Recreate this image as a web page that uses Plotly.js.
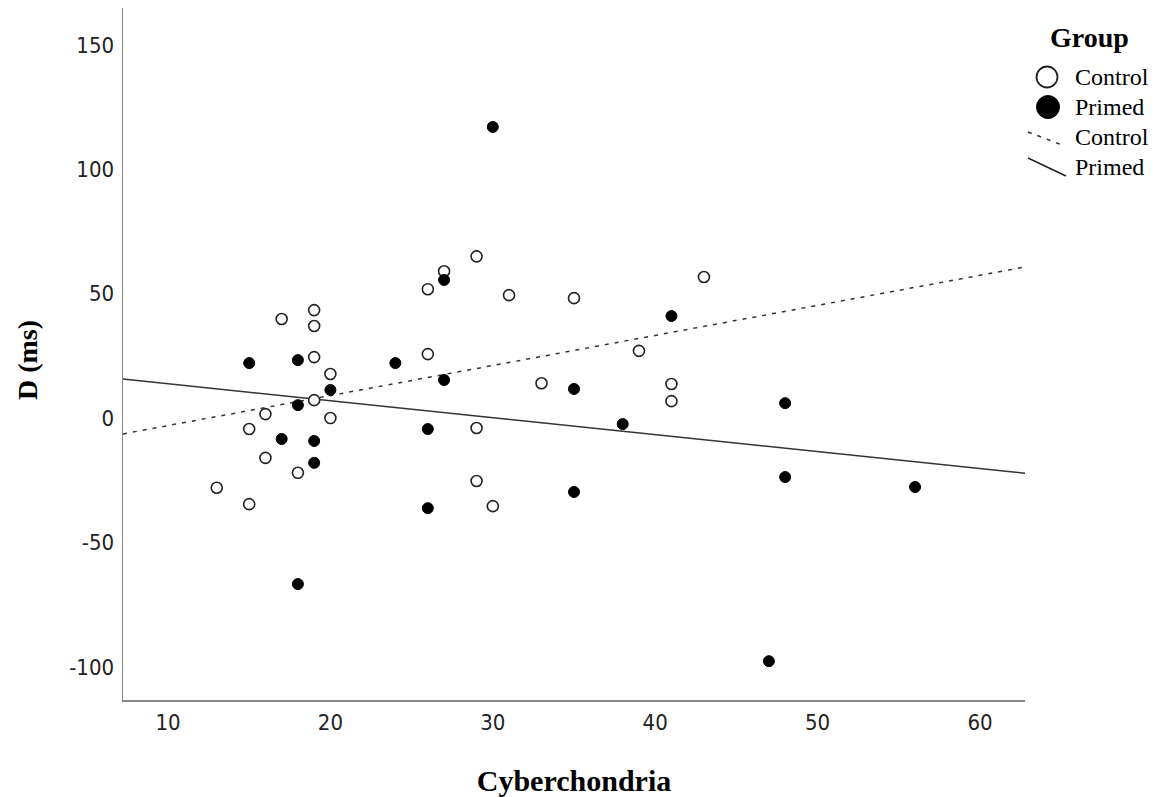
<!DOCTYPE html>
<html>
<head>
<meta charset="utf-8">
<script src="https://cdn.plot.ly/plotly-3.0.1.min.js"></script>
<style>html,body{margin:0;padding:0;background:#fff;}#chart{width:1165px;height:797px;}</style>
</head>
<body>
<div id="chart"></div>
<script>
// Control group (open circles)
const controlX = [13, 15, 15, 16, 16, 17, 18, 19, 19, 19, 19, 20, 20, 26, 26, 27, 29, 29, 29, 30, 31, 33, 35, 39, 41, 41, 43];
const controlY = [-28, -4.4, -34.6, 1.6, -16, 39.8, -22, 43.4, 37, 24.5, 7.2, 17.7, 0, 51.8, 25.7, 59, 65, -4, -25.3, -35.4, 49.4, 14, 48.2, 27, 13.7, 6.8, 56.7];
// Primed group (filled circles)
const primedX = [15, 17, 18, 18, 18, 19, 19, 20, 24, 26, 26, 27, 27, 30, 35, 35, 38, 41, 47, 48, 48, 56];
const primedY = [22.1, -8.4, 23.3, 5.2, -66.7, -9.2, -18, 11.3, 22.1, -4.4, -36.2, 55.5, 15.3, 117, 11.7, -29.7, -2.4, 41, -97.7, 6, -23.7, -27.7];
// Fit lines (intercept, slope)
const fitGroups = ["Control", "Primed"];
const fitIntercept = [-15.1, 20.6];
const fitSlope = [1.208, -0.681];
// Axis ticks
const xTicks = [10, 20, 30, 40, 50, 60];
const yTicks = [-100, -50, 0, 50, 100, 150];
const xRange = [7.23, 62.77];
const yRange = [-113.3, 164.8];

const serif = "Liberation Serif, Times New Roman, serif";
const narrow = "Liberation Sans Narrow, DejaVu Sans Condensed, Liberation Sans, sans-serif";

const fitLine = (i) => ({
  x: xRange,
  y: xRange.map(v => fitIntercept[i] + fitSlope[i] * v),
  mode: "lines", type: "scatter", showlegend: false, hoverinfo: "skip",
  line: {color: "#333", width: 1.5, dash: i === 0 ? "4px,6px" : "solid"}
});

const traces = [
  fitLine(0), fitLine(1),
  {x: controlX, y: controlY, mode: "markers", type: "scatter", name: "Control", showlegend: false,
   marker: {symbol: "circle", size: 11, color: "#fff", line: {color: "#222", width: 1.6}}},
  {x: primedX, y: primedY, mode: "markers", type: "scatter", name: "Primed", showlegend: false,
   marker: {symbol: "circle", size: 11, color: "#000", line: {color: "#000", width: 1}}}
];

// legend helpers (paper coords derived from plot area 123..1025 x 8..700)
const L = 123, R = 1025, T = 8, B = 700;
const px = v => (v - L) / (R - L);
const py = v => (B - v) / (B - T);

const annotations = [
  {text: "<b>D (ms)</b>", x: px(27), y: py(360), xref: "paper", yref: "paper", showarrow: false,
   textangle: -90, xanchor: "center", yanchor: "middle", font: {family: serif, size: 28, color: "#000"}},
  {text: "<b>Group</b>", x: px(1089), y: py(37), xref: "paper", yref: "paper", showarrow: false,
   xanchor: "center", yanchor: "middle", font: {family: serif, size: 28, color: "#000"}},
  {text: "Control", x: px(1073), y: py(77), xref: "paper", yref: "paper", showarrow: false,
   xanchor: "left", yanchor: "middle", font: {family: serif, size: 24, color: "#000"}},
  {text: "Primed", x: px(1073), y: py(107), xref: "paper", yref: "paper", showarrow: false,
   xanchor: "left", yanchor: "middle", font: {family: serif, size: 24, color: "#000"}},
  {text: "Control", x: px(1073), y: py(137), xref: "paper", yref: "paper", showarrow: false,
   xanchor: "left", yanchor: "middle", font: {family: serif, size: 24, color: "#000"}},
  {text: "Primed", x: px(1073), y: py(167), xref: "paper", yref: "paper", showarrow: false,
   xanchor: "left", yanchor: "middle", font: {family: serif, size: 24, color: "#000"}}
];

const shapes = [
  {type: "circle", xref: "paper", yref: "paper", xsizemode: "pixel", ysizemode: "pixel",
   xanchor: px(1047), yanchor: py(77), x0: -10.5, x1: 10.5, y0: -10.5, y1: 10.5,
   line: {color: "#222", width: 1.8}, fillcolor: "#fff"},
  {type: "circle", xref: "paper", yref: "paper", xsizemode: "pixel", ysizemode: "pixel",
   xanchor: px(1048), yanchor: py(107), x0: -11.5, x1: 11.5, y0: -11.5, y1: 11.5,
   line: {color: "#000", width: 1}, fillcolor: "#000"},
  {type: "line", xref: "paper", yref: "paper", x0: px(1028), y0: py(132), x1: px(1062), y1: py(145),
   line: {color: "#333", width: 1.5, dash: "4px,6px"}},
  {type: "line", xref: "paper", yref: "paper", x0: px(1028), y0: py(158), x1: px(1066), y1: py(176),
   line: {color: "#222", width: 1.5}}
];

const layout = {
  width: 1165, height: 797,
  margin: {l: L, r: 1165 - R, t: T, b: 797 - B},
  paper_bgcolor: "#fff", plot_bgcolor: "#fff",
  showlegend: false,
  xaxis: {
    range: xRange, tickvals: xTicks, ticktext: xTicks.map(String),
    showgrid: false, zeroline: false, showline: true, linecolor: "#858585", linewidth: 1.5,
    ticks: "", ticklabelstandoff: 2,
    tickfont: {family: narrow, size: 22, color: "#222"},
    title: {text: "<b>Cyberchondria</b>", font: {family: serif, size: 30, color: "#000"}, standoff: 36},
    automargin: false, fixedrange: true
  },
  yaxis: {
    range: yRange, tickvals: yTicks, ticktext: yTicks.map(String),
    showgrid: false, zeroline: false, showline: true, linecolor: "#858585", linewidth: 1.5,
    ticks: "", ticklabelstandoff: 3,
    tickfont: {family: narrow, size: 22, color: "#222"},
    automargin: false, fixedrange: true
  },
  annotations: annotations,
  shapes: shapes
};

Plotly.newPlot("chart", traces, layout, {displayModeBar: false, staticPlot: true});
</script>
</body>
</html>
